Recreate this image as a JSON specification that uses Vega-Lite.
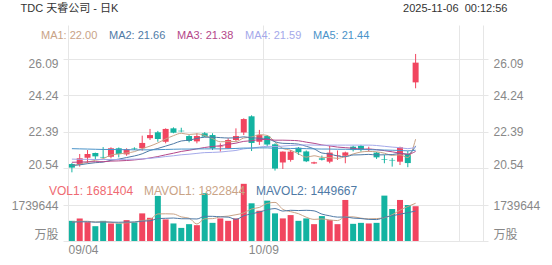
{
  "$schema": "https://vega.github.io/schema/vega-lite/v6.json",
  "width": 425,
  "height": 216,
  "autosize": {"type": "none"},
  "padding": {"left": 63, "top": 25, "right": 64, "bottom": 24},
  "background": "white",
  "config": {
    "view": {"stroke": null},
    "font": "Liberation Sans, Noto Sans CJK SC, sans-serif",
    "axis": {
      "labelFont": "Liberation Sans, Noto Sans CJK SC, sans-serif",
      "titleFont": "Liberation Sans, Noto Sans CJK SC, sans-serif",
      "labelFontSize": 12,
      "labelColor": "#888888",
      "gridColor": "#e6e6e6",
      "gridWidth": 1,
      "domain": false,
      "ticks": false
    },
    "legend": {"labelFont": "Liberation Sans, Noto Sans CJK SC, sans-serif"}
  },
  "datasets": {
    "k": [
      {"i":0,"d":"09/04","o":20.74,"h":20.79,"l":20.32,"c":20.56,"v":975000,"MA1":20.66,"MA2":20.67,"MA3":20.83,"MA4":20.99,"MA5":21.52,"MAVOL1":915000,"MAVOL2":908000},
      {"i":1,"d":"09/05","o":20.74,"h":21.25,"l":20.61,"c":21.03,"v":1091000,"MA1":20.73,"MA2":20.70,"MA3":20.84,"MA4":20.98,"MA5":21.51,"MAVOL1":953000,"MAVOL2":927000},
      {"i":2,"d":"09/08","o":21.06,"h":21.45,"l":20.78,"c":21.25,"v":911000,"MA1":20.84,"MA2":20.76,"MA3":20.85,"MA4":20.98,"MA5":21.50,"MAVOL1":955000,"MAVOL2":928000},
      {"i":3,"d":"09/09","o":21.30,"h":21.32,"l":20.95,"c":21.13,"v":716000,"MA1":20.93,"MA2":20.81,"MA3":20.86,"MA4":20.97,"MA5":21.49,"MAVOL1":919000,"MAVOL2":909000},
      {"i":4,"d":"09/10","o":21.10,"h":21.60,"l":21.03,"c":21.07,"v":974000,"MA1":21.01,"MA2":20.84,"MA3":20.86,"MA4":20.97,"MA5":21.48,"MAVOL1":933000,"MAVOL2":917000},
      {"i":5,"d":"09/11","o":21.11,"h":21.59,"l":21.03,"c":21.54,"v":848000,"MA1":21.20,"MA2":20.93,"MA3":20.89,"MA4":20.97,"MA5":21.48,"MAVOL1":908000,"MAVOL2":912000},
      {"i":6,"d":"09/12","o":21.54,"h":21.58,"l":21.08,"c":21.25,"v":848000,"MA1":21.25,"MA2":20.99,"MA3":20.90,"MA4":20.97,"MA5":21.47,"MAVOL1":859000,"MAVOL2":906000},
      {"i":7,"d":"09/15","o":21.23,"h":21.54,"l":21.16,"c":21.49,"v":1009000,"MA1":21.30,"MA2":21.07,"MA3":20.92,"MA4":20.98,"MA5":21.47,"MAVOL1":879000,"MAVOL2":917000},
      {"i":8,"d":"09/16","o":21.53,"h":21.59,"l":21.45,"c":21.50,"v":897000,"MA1":21.37,"MA2":21.15,"MA3":20.95,"MA4":20.99,"MA5":21.46,"MAVOL1":915000,"MAVOL2":917000},
      {"i":9,"d":"09/17","o":21.54,"h":22.18,"l":21.42,"c":21.81,"v":1335000,"MA1":21.52,"MA2":21.26,"MA3":20.99,"MA4":21.00,"MA5":21.46,"MAVOL1":987000,"MAVOL2":960000},
      {"i":10,"d":"09/18","o":22.05,"h":22.52,"l":21.96,"c":22.21,"v":1121000,"MA1":21.65,"MA2":21.43,"MA3":21.05,"MA4":21.03,"MA5":21.46,"MAVOL1":1042000,"MAVOL2":975000},
      {"i":11,"d":"09/19","o":22.35,"h":22.42,"l":21.87,"c":22.01,"v":2178000,"MA1":21.81,"MA2":21.53,"MA3":21.12,"MA4":21.07,"MA5":21.47,"MAVOL1":1308000,"MAVOL2":1084000},
      {"i":12,"d":"09/22","o":21.87,"h":22.55,"l":21.79,"c":22.52,"v":1043000,"MA1":22.01,"MA2":21.65,"MA3":21.21,"MA4":21.12,"MA5":21.48,"MAVOL1":1315000,"MAVOL2":1097000},
      {"i":13,"d":"09/23","o":22.55,"h":22.60,"l":22.30,"c":22.33,"v":848000,"MA1":22.18,"MA2":21.77,"MA3":21.29,"MA4":21.16,"MA5":21.49,"MAVOL1":1305000,"MAVOL2":1110000},
      {"i":14,"d":"09/24","o":22.43,"h":22.58,"l":22.35,"c":22.40,"v":633000,"MA1":22.30,"MA2":21.91,"MA3":21.38,"MA4":21.21,"MA5":21.50,"MAVOL1":1165000,"MAVOL2":1076000},
      {"i":15,"d":"09/25","o":22.16,"h":22.21,"l":21.84,"c":21.91,"v":814000,"MA1":22.24,"MA2":21.95,"MA3":21.44,"MA4":21.24,"MA5":21.50,"MAVOL1":1103000,"MAVOL2":1073000},
      {"i":16,"d":"09/26","o":21.89,"h":22.30,"l":21.79,"c":22.16,"v":765000,"MA1":22.27,"MA2":22.04,"MA3":21.51,"MA4":21.28,"MA5":21.51,"MAVOL1":821000,"MAVOL2":1064000},
      {"i":17,"d":"09/29","o":22.30,"h":22.36,"l":22.11,"c":22.13,"v":2310000,"MA1":22.19,"MA2":22.10,"MA3":21.58,"MA4":21.32,"MA5":21.51,"MAVOL1":1074000,"MAVOL2":1194000},
      {"i":18,"d":"09/30","o":22.21,"h":22.30,"l":21.45,"c":21.54,"v":877000,"MA1":22.03,"MA2":22.10,"MA3":21.63,"MA4":21.33,"MA5":21.51,"MAVOL1":1080000,"MAVOL2":1192000},
      {"i":19,"d":"10/01","o":21.60,"h":21.79,"l":21.37,"c":21.63,"v":1091000,"MA1":21.87,"MA2":22.08,"MA3":21.67,"MA4":21.35,"MA5":21.51,"MAVOL1":1171000,"MAVOL2":1168000},
      {"i":20,"d":"10/02","o":21.54,"h":22.05,"l":21.50,"c":21.96,"v":974000,"MA1":21.88,"MA2":22.06,"MA3":21.74,"MA4":21.39,"MA5":21.52,"MAVOL1":1203000,"MAVOL2":1153000},
      {"i":21,"d":"10/03","o":21.96,"h":22.55,"l":21.91,"c":22.16,"v":1091000,"MA1":21.88,"MA2":22.07,"MA3":21.80,"MA4":21.43,"MA5":21.53,"MAVOL1":1269000,"MAVOL2":1045000},
      {"i":22,"d":"10/06","o":22.34,"h":23.06,"l":22.21,"c":23.02,"v":2763000,"MA1":22.06,"MA2":22.12,"MA3":21.89,"MA4":21.51,"MA5":21.55,"MAVOL1":1359000,"MAVOL2":1217000},
      {"i":23,"d":"10/07","o":23.16,"h":23.21,"l":21.40,"c":21.81,"v":1822000,"MA1":22.11,"MA2":22.07,"MA3":21.92,"MA4":21.55,"MA5":21.55,"MAVOL1":1548000,"MAVOL2":1314000},
      {"i":24,"d":"10/08","o":21.87,"h":22.47,"l":21.71,"c":22.21,"v":1462000,"MA1":22.23,"MA2":22.05,"MA3":21.98,"MA4":21.60,"MA5":21.56,"MAVOL1":1622000,"MAVOL2":1397000},
      {"i":25,"d":"10/09","o":22.16,"h":22.21,"l":21.62,"c":21.73,"v":1949000,"MA1":22.19,"MA2":22.03,"MA3":21.99,"MA4":21.64,"MA5":21.56,"MAVOL1":1817000,"MAVOL2":1510000},
      {"i":26,"d":"10/10","o":21.74,"h":21.79,"l":20.41,"c":20.51,"v":1335000,"MA1":21.86,"MA2":21.87,"MA3":21.95,"MA4":21.63,"MA5":21.54,"MAVOL1":1866000,"MAVOL2":1567000},
      {"i":27,"d":"10/13","o":20.82,"h":21.38,"l":20.49,"c":21.37,"v":1092000,"MA1":21.53,"MA2":21.79,"MA3":21.95,"MA4":21.65,"MA5":21.54,"MAVOL1":1532000,"MAVOL2":1446000},
      {"i":28,"d":"10/14","o":20.95,"h":21.45,"l":20.86,"c":21.37,"v":1252000,"MA1":21.44,"MA2":21.78,"MA3":21.94,"MA4":21.68,"MA5":21.53,"MAVOL1":1418000,"MAVOL2":1483000},
      {"i":29,"d":"10/15","o":21.57,"h":21.60,"l":21.20,"c":21.34,"v":975000,"MA1":21.26,"MA2":21.75,"MA3":21.92,"MA4":21.70,"MA5":21.53,"MAVOL1":1321000,"MAVOL2":1472000},
      {"i":30,"d":"10/16","o":21.38,"h":21.43,"l":20.84,"c":20.88,"v":1092000,"MA1":21.09,"MA2":21.64,"MA3":21.85,"MA4":21.71,"MA5":21.52,"MAVOL1":1149000,"MAVOL2":1483000},
      {"i":31,"d":"10/17","o":20.77,"h":20.86,"l":20.74,"c":20.83,"v":814000,"MA1":21.16,"MA2":21.51,"MA3":21.79,"MA4":21.70,"MA5":21.51,"MAVOL1":1045000,"MAVOL2":1456000},
      {"i":32,"d":"10/20","o":21.03,"h":21.17,"l":20.92,"c":20.96,"v":1204000,"MA1":21.08,"MA2":21.30,"MA3":21.71,"MA4":21.69,"MA5":21.50,"MAVOL1":1067000,"MAVOL2":1300000},
      {"i":33,"d":"10/21","o":20.86,"h":21.66,"l":20.78,"c":21.32,"v":1009000,"MA1":21.07,"MA2":21.25,"MA3":21.66,"MA4":21.70,"MA5":21.50,"MAVOL1":1019000,"MAVOL2":1218000},
      {"i":34,"d":"10/22","o":21.15,"h":21.43,"l":20.95,"c":21.18,"v":814000,"MA1":21.03,"MA2":21.15,"MA3":21.60,"MA4":21.70,"MA5":21.49,"MAVOL1":987000,"MAVOL2":1154000},
      {"i":35,"d":"10/23","o":21.16,"h":21.37,"l":20.78,"c":21.33,"v":1983000,"MA1":21.12,"MA2":21.11,"MA3":21.57,"MA4":21.70,"MA5":21.49,"MAVOL1":1165000,"MAVOL2":1157000},
      {"i":36,"d":"10/24","o":21.62,"h":21.67,"l":21.38,"c":21.45,"v":830000,"MA1":21.25,"MA2":21.20,"MA3":21.54,"MA4":21.70,"MA5":21.48,"MAVOL1":1168000,"MAVOL2":1107000},
      {"i":37,"d":"10/27","o":21.66,"h":21.71,"l":21.37,"c":21.45,"v":877000,"MA1":21.35,"MA2":21.21,"MA3":21.50,"MA4":21.70,"MA5":21.48,"MAVOL1":1103000,"MAVOL2":1085000},
      {"i":38,"d":"10/28","o":21.48,"h":21.62,"l":21.37,"c":21.51,"v":848000,"MA1":21.38,"MA2":21.23,"MA3":21.50,"MA4":21.70,"MA5":21.47,"MAVOL1":1070000,"MAVOL2":1045000},
      {"i":39,"d":"10/29","o":21.32,"h":21.35,"l":21.00,"c":21.08,"v":877000,"MA1":21.36,"MA2":21.20,"MA3":21.47,"MA4":21.68,"MA5":21.46,"MAVOL1":1083000,"MAVOL2":1035000},
      {"i":40,"d":"10/30","o":20.99,"h":21.20,"l":20.78,"c":20.96,"v":2193000,"MA1":21.29,"MA2":21.21,"MA3":21.42,"MA4":21.64,"MA5":21.45,"MAVOL1":1125000,"MAVOL2":1145000},
      {"i":41,"d":"10/31","o":20.95,"h":21.05,"l":20.61,"c":20.92,"v":1545000,"MA1":21.18,"MA2":21.22,"MA3":21.36,"MA4":21.60,"MA5":21.44,"MAVOL1":1268000,"MAVOL2":1218000},
      {"i":42,"d":"11/03","o":20.86,"h":21.62,"l":20.69,"c":21.59,"v":1983000,"MA1":21.21,"MA2":21.28,"MA3":21.29,"MA4":21.57,"MA5":21.43,"MAVOL1":1489000,"MAVOL2":1296000},
      {"i":43,"d":"11/04","o":21.25,"h":21.40,"l":20.58,"c":20.79,"v":1740000,"MA1":21.07,"MA2":21.23,"MA3":21.24,"MA4":21.52,"MA5":21.41,"MAVOL1":1668000,"MAVOL2":1369000},
      {"i":44,"d":"11/05","o":24.88,"h":26.32,"l":24.58,"c":25.88,"v":1681404,"MA1":22.00,"MA2":21.66,"MA3":21.38,"MA4":21.59,"MA5":21.44,"MAVOL1":1822844,"MAVOL2":1449667}
    ]
  },
  "data": {"name": "k"},
  "layer": [
    {
      "layer": [
        {
          "mark": {"type": "rule", "strokeWidth": 1},
          "encoding": {
            "x": {"field": "i", "type": "quantitative", "scale": {"domain": [-0.5, 52.625], "nice": false, "zero": false},
              "axis": {"orient": "bottom", "values": [-0.5, 24.5, 49.5, 52.625], "grid": true, "labelPadding": 3,
                "labelAlign": {"condition": {"test": "datum.value < 0", "value": "left"}, "value": "center"},
                "labelExpr": "datum.value < 0 ? '09/04' : datum.value < 30 ? '10/09' : ''",
                "title": "2025-11-06\u00a0\u00a000:12:56", "titleX": 444, "titleY": -232.5,
                "titleAlign": "right", "titleAnchor": "end", "titleBaseline": "middle", "titleFontSize": 11, "titleFontWeight": "normal", "titleColor": "#333333"}},
            "y": {"field": "l", "type": "quantitative", "scale": {"domain": [16.84, 27.788], "nice": false, "zero": false},
              "axis": {"orient": "left", "values": [20.54, 22.39, 24.24, 26.09], "format": ".2f", "grid": true, "title": null, "labelPadding": 5,
                "labelBaseline": {"condition": [{"test": "datum.value > 26", "value": "top"}, {"test": "datum.value < 21", "value": "alphabetic"}], "value": "middle"}}},
            "y2": {"field": "h"},
            "color": {"condition": {"test": "datum.c >= datum.o", "value": "#f1455f"}, "value": "#13b3a1"}
          }
        },
        {
          "mark": {"type": "bar", "width": 6},
          "encoding": {
            "x": {"field": "i", "type": "quantitative", "scale": {"domain": [-0.5, 52.625], "nice": false, "zero": false},
              "axis": {"orient": "top", "labels": false, "grid": false, "title": "TDC 天睿公司 - 日K", "titleX": -43, "titleY": -16.5,
                "titleAlign": "left", "titleAnchor": "start", "titleBaseline": "middle", "titleFontSize": 11, "titleFontWeight": "normal", "titleColor": "#333333"}},
            "y": {"field": "o", "type": "quantitative", "scale": {"domain": [16.84, 27.788], "nice": false, "zero": false},
              "axis": {"orient": "right", "values": [20.54, 22.39, 24.24, 26.09], "format": ".2f", "grid": false, "title": null, "labelPadding": 5,
                "labelBaseline": {"condition": [{"test": "datum.value > 26", "value": "top"}, {"test": "datum.value < 21", "value": "alphabetic"}], "value": "middle"}}},
            "y2": {"field": "c"},
            "color": {"condition": {"test": "datum.c >= datum.o", "value": "#f1455f"}, "value": "#13b3a1"}
          }
        },
        {
          "transform": [{"fold": ["MA1", "MA2", "MA3", "MA4", "MA5"], "as": ["s", "val"]}],
          "mark": {"type": "line", "strokeWidth": 1, "interpolate": "monotone"},
          "encoding": {
            "x": {"field": "i", "type": "quantitative", "scale": {"domain": [-0.5, 52.625], "nice": false, "zero": false}, "axis": null},
            "y": {"field": "val", "type": "quantitative", "scale": {"domain": [16.84, 27.788], "nice": false, "zero": false}, "axis": null},
            "stroke": {"field": "s", "type": "nominal",
              "scale": {"domain": ["MA1", "MA2", "MA3", "MA4", "MA5"], "range": ["#c9a386", "#4f7aa6", "#b4478a", "#a4a9ea", "#4a93c9"]},
              "legend": {"orient": "none", "legendX": -22, "legendY": 5, "direction": "horizontal", "title": null, "padding": 0,
                "symbolSize": 0.01, "symbolStrokeWidth": 0, "symbolOpacity": 0, "labelOffset": -11, "columnPadding": 11,
                "labelFontSize": 11, "labelFont": "Liberation Sans",
                "labelExpr": "datum.value == 'MA1' ? 'MA1: 22.00' : datum.value == 'MA2' ? 'MA2: 21.66' : datum.value == 'MA3' ? 'MA3: 21.38' : datum.value == 'MA4' ? 'MA4: 21.59' : 'MA5: 21.44'",
                "encode": {"labels": {"update": {"fill": {"signal": "datum.value == 'MA1' ? '#c9a386' : datum.value == 'MA2' ? '#4f7aa6' : datum.value == 'MA3' ? '#b4478a' : datum.value == 'MA4' ? '#a4a9ea' : '#4a93c9'"}}}}}
            }
          }
        }
      ],
      "resolve": {"axis": {"y": "independent", "x": "independent"}}
    },
    {
      "layer": [
        {
          "mark": {"type": "bar", "width": 6},
          "encoding": {
            "x": {"field": "i", "type": "quantitative", "scale": {"domain": [-0.5, 52.625], "nice": false, "zero": false}, "axis": null},
            "y": {"field": "v", "type": "quantitative", "scale": {"domain": [0, 10437864], "nice": false, "zero": false},
              "axis": {"orient": "left", "values": [0, 1739644], "grid": true, "title": null, "labelPadding": 5,
                "labelExpr": "datum.value == 0 ? '万股' : '1739644'",
                "labelBaseline": {"condition": {"test": "datum.value == 0", "value": "bottom"}, "value": "middle"}}},
            "color": {"condition": {"test": "datum.c >= datum.o", "value": "#f1455f"}, "value": "#13b3a1"}
          }
        },
        {
          "transform": [{"fold": ["MAVOL1", "MAVOL2"], "as": ["s", "val"]}],
          "mark": {"type": "line", "strokeWidth": 1, "interpolate": "monotone"},
          "encoding": {
            "x": {"field": "i", "type": "quantitative", "scale": {"domain": [-0.5, 52.625], "nice": false, "zero": false}, "axis": null},
            "y": {"field": "val", "type": "quantitative", "scale": {"domain": [0, 10437864], "nice": false, "zero": false},
              "axis": {"orient": "right", "values": [0, 1739644], "grid": false, "title": null, "labelPadding": 5,
                "labelExpr": "datum.value == 0 ? '万股' : '1739644'",
                "labelBaseline": {"condition": {"test": "datum.value == 0", "value": "bottom"}, "value": "middle"}}},
            "color": {"field": "s", "type": "nominal",
              "scale": {"domain": ["VOL1", "MAVOL1", "MAVOL2"], "range": ["#ef6a72", "#c9a386", "#4f7aa6"]},
              "legend": {"orient": "none", "legendX": -14, "legendY": 160, "direction": "horizontal", "title": null, "padding": 0,
                "symbolSize": 0.01, "symbolStrokeWidth": 0, "symbolOpacity": 0, "labelOffset": -12, "columnPadding": 10,
                "labelFontSize": 12, "labelFont": "Liberation Sans",
                "labelExpr": "datum.value == 'VOL1' ? 'VOL1: 1681404' : datum.value == 'MAVOL1' ? 'MAVOL1: 1822844' : 'MAVOL2: 1449667'",
                "encode": {"labels": {"update": {"fill": {"signal": "datum.value == 'VOL1' ? '#ef6a72' : datum.value == 'MAVOL1' ? '#c9a386' : '#4f7aa6'"}}}}}
            }
          }
        }
      ],
      "resolve": {"axis": {"y": "independent"}}
    }
  ],
  "resolve": {"scale": {"y": "independent"}, "axis": {"y": "independent", "x": "independent"}}
}
